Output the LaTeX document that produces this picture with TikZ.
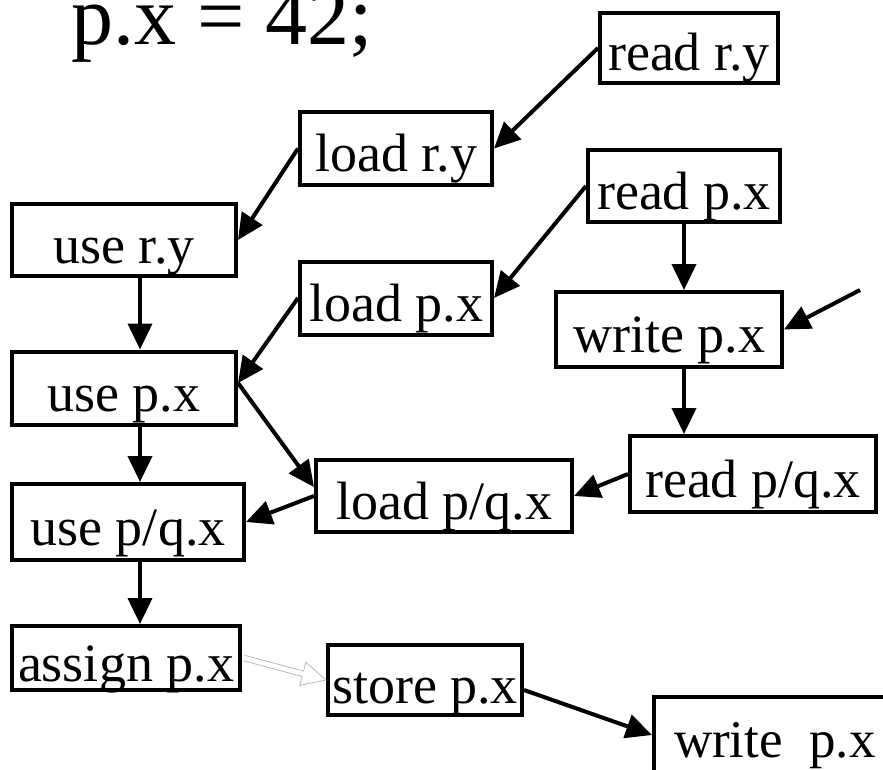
\documentclass[tikz,border=0pt]{standalone}
\usepackage{fontspec}
\setmainfont{Liberation Serif}
\usetikzlibrary{arrows.meta,calc}
\begin{document}
\begin{tikzpicture}[x=1pt,y=-1pt,
  box/.style={draw, line width=4pt, inner sep=0pt, font=\fontsize{54}{60}\selectfont, text height=46pt, text depth=0pt},
  arr/.style={line width=4pt, -{Triangle[length=26pt,width=24pt]}},
  hollow/.style={draw=gray!55, line width=0.8pt, fill=white, line join=miter}]
\clip (0,0) rectangle (883,770);
\node[anchor=base west, font=\fontsize{84}{90}\selectfont, inner sep=0pt] (title) at (71,45) {p.x = 42;};
\node[box, minimum width=178pt, minimum height=70pt] (readry) at (689,48) {read r.y};
\node[box, minimum width=192pt, minimum height=73pt] (loadry) at (396,148.5) {load r.y};
\node[box, minimum width=224pt, minimum height=72pt] (usery) at (124,240) {use r.y};
\node[box, minimum width=192pt, minimum height=72pt] (readpx) at (684,186) {read p.x};
\node[box, minimum width=192pt, minimum height=73pt] (loadpx) at (396,298) {load p.x};
\node[box, minimum width=226pt, minimum height=75pt] (writepx) at (669,329.5) {write p.x};
\node[box, minimum width=224pt, minimum height=73pt] (usepx) at (124,388) {use p.x};
\node[box, minimum width=246pt, minimum height=76pt] (readpqx) at (753,474) {read p/q.x};
\node[box, minimum width=256pt, minimum height=72pt] (loadpqx) at (444,496) {load p/q.x};
\node[box, minimum width=232pt, minimum height=76pt] (usepqx) at (128,522) {use p/q.x};
\node[box, minimum width=228pt, minimum height=64pt] (assignpx) at (126,658) {assign p.x};
\node[box, minimum width=194pt, minimum height=70pt] (storepx) at (425,680) {store p.x};
\node[box, anchor=base west, inner xsep=20pt, text height=60pt, text depth=30pt, font=\fontsize{53}{60}\selectfont] (writepxb) at (652,757) {write\ \ p.x};
\coordinate (free) at (860,290);
\draw[arr] (readry.west) -- (loadry.east);
\draw[arr] (loadry.west) -- (usery.east);
\draw[arr] (readpx.west) -- (loadpx.east);
\draw[arr] ([xshift=16pt]usery.south) -- ([xshift=16pt]usepx.north);
\draw[arr] (loadpx.west) -- ([yshift=5pt]usepx.east);
\draw[arr] (readpx.south) -- (readpx.south |- writepx.north);
\draw[arr] (free) -- (writepx.east);
\draw[arr] (readpx.south |- writepx.south) -- (readpx.south |- readpqx.north);
\draw[arr] ([yshift=5pt]usepx.east) -- ([yshift=9pt]loadpqx.west);
\draw[arr] (readpqx.west) -- (loadpqx.east);
\draw[arr] (loadpqx.west) -- (usepqx.east);
\draw[arr] ([xshift=16pt]usepx.south) -- ([xshift=12pt]usepqx.north);
\draw[arr] ([xshift=12pt]usepqx.south) -- ([xshift=14pt]assignpx.north);
\draw[arr] ([yshift=-10pt]storepx.east) -- ([yshift=7pt]writepxb.west);
% hollow arrow
\coordinate (ha) at ([xshift=2pt]assignpx.east);
\coordinate (hb) at (storepx.west);
\coordinate (hh) at ($(hb)!24pt!(ha)$);
\path[hollow] ($(ha)!2.8pt!90:(hb)$) -- ($(hh)!2.8pt!90:(hb)$) -- ($(hh)!12pt!90:(hb)$) -- (hb)
  -- ($(hh)!12pt!-90:(hb)$) -- ($(hh)!2.8pt!-90:(hb)$) -- ($(ha)!2.8pt!-90:(hb)$);
\end{tikzpicture}
\end{document}
